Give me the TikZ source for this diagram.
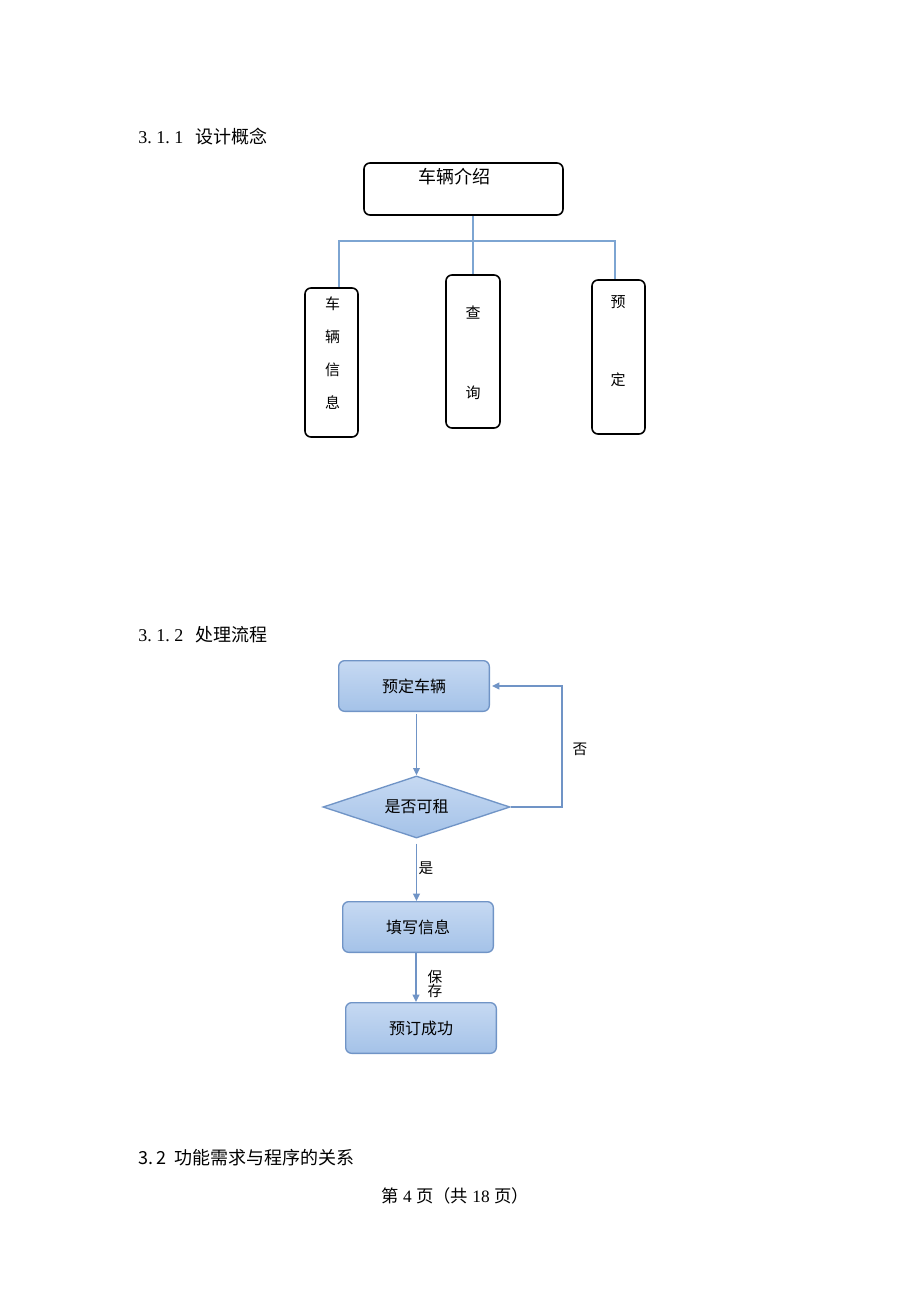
\documentclass[tikz,border=0pt]{standalone}
\usepackage{fontspec}
\setmainfont{Liberation Serif}
\newfontfamily\cjk{Noto Sans CJK SC}
\usetikzlibrary{shapes.geometric,arrows.meta,calc}

\definecolor{linkblue}{RGB}{125,165,210}
\definecolor{flowline}{RGB}{112,148,198}
\definecolor{flowtop}{RGB}{198,217,242}
\definecolor{flowbot}{RGB}{164,194,232}

\begin{document}
\begin{tikzpicture}[x=0.75pt,y=0.75pt,yscale=-1,xscale=1,
  treebox/.style={draw=black,line width=1.2pt,rounded corners=4.5pt,inner sep=0pt},
  treelink/.style={draw=linkblue,line width=1.4pt},
  flowbox/.style={draw=flowline,line width=1pt,rounded corners=4.5pt,top color=flowtop,bottom color=flowbot,
    minimum width=113pt,minimum height=38pt,inner sep=0pt,font=\cjk\fontsize{12}{14}\selectfont},
  flowarrow/.style={draw=flowline,line width=1.3pt,-{Triangle[length=5.5pt,width=5pt]}},
  heading/.style={anchor=west,inner sep=0pt,font=\fontsize{13.5}{16}\selectfont},
  treetext/.style={inner sep=0pt,font=\cjk\fontsize{11.25}{13}\selectfont},
  flowtext/.style={inner sep=0pt,font=\cjk\fontsize{11}{13}\selectfont}]
\useasboundingbox (0,0) rectangle (920,1302);

% Text Node
\node [heading] (h1) at (138,137) {3.~1.~1\ \ \,{\cjk 设计概念}};

%Shape: Rectangle
\node [treebox,minimum width=149.25pt,minimum height=39pt] (intro) at (463.5,189) {};
\node [treebox,minimum width=39.75pt,minimum height=111.75pt] (info) at (331.5,362.5) {};
\node [treebox,minimum width=40.5pt,minimum height=114.75pt] (query) at (473,351.5) {};
\node [treebox,minimum width=39.75pt,minimum height=115.5pt] (book) at (618.5,357) {};

%Straight Lines
\coordinate (bus) at (473,241);
\draw [treelink] (intro.south -| query.north) -- (query.north);
\draw [treelink] ($(info.north)+(7.5,0)$) |- (bus) -| ($(book.north)+(-3.5,0)$);

% Text Node
\node [inner sep=0pt,font=\cjk\fontsize{13.5}{16}\selectfont] (introtext) at (454,177) {车辆介绍};
\node [treetext] (info1) at (332.5,304) {车};
\node [treetext] (info2) at (332.5,337) {辆};
\node [treetext] (info3) at (332.5,370) {信};
\node [treetext] (info4) at (332.5,403) {息};
\node [treetext] (query1) at (473,313) {查};
\node [treetext] (query2) at (473,393) {询};
\node [treetext] (book1) at (618,302) {预};
\node [treetext] (book2) at (618,380) {定};

% Text Node
\node [heading] (h2) at (138,635) {3.~1.~2\ \ \,{\cjk 处理流程}};

%Shape: Rectangle
\node [flowbox] (reserve) at (414,686) {预定车辆};
%Shape: Diamond
\node [diamond,aspect=3,draw=flowline,line width=1pt,top color=flowtop,bottom color=flowbot,
  minimum width=140.25pt,minimum height=46.5pt,inner sep=0pt,
  font=\cjk\fontsize{12}{14}\selectfont] (avail) at (416.5,807) {是否可租};
\node [flowbox] (fill) at (418,927) {填写信息};
\node [flowbox] (success) at (421,1028) {预订成功};

%Straight Lines
\draw [flowarrow] ($(reserve.south -| avail.north)+(0,2)$) -- (avail.north);
\draw [flowarrow] (avail.east) -- (562,807) |- ([xshift=1.5pt]reserve.east);
\draw [flowarrow] ($(avail.south)+(0,5)$) -- (fill.north -| avail.south);
\draw [flowarrow] (fill.south -| 416,0) -- (success.north -| 416,0);

% Text Node
\node [flowtext] (no) at (580,749) {否};
\node [flowtext] (yes) at (426,868) {是};
\node [flowtext,align=center] (save) at (435,983.5) {保\\[-2.5pt]存};

% Text Node
\node [heading,font=\cjk\fontsize{13.5}{16}\selectfont] (h3) at (138,1158) {3.\,2\ \ 功能需求与程序的关系};
\node [inner sep=0pt,font=\fontsize{13}{15}\selectfont] (footer) at (455,1196) {{\cjk 第}~4~{\cjk 页（共}~18~{\cjk 页）}};

\end{tikzpicture}
\end{document}
